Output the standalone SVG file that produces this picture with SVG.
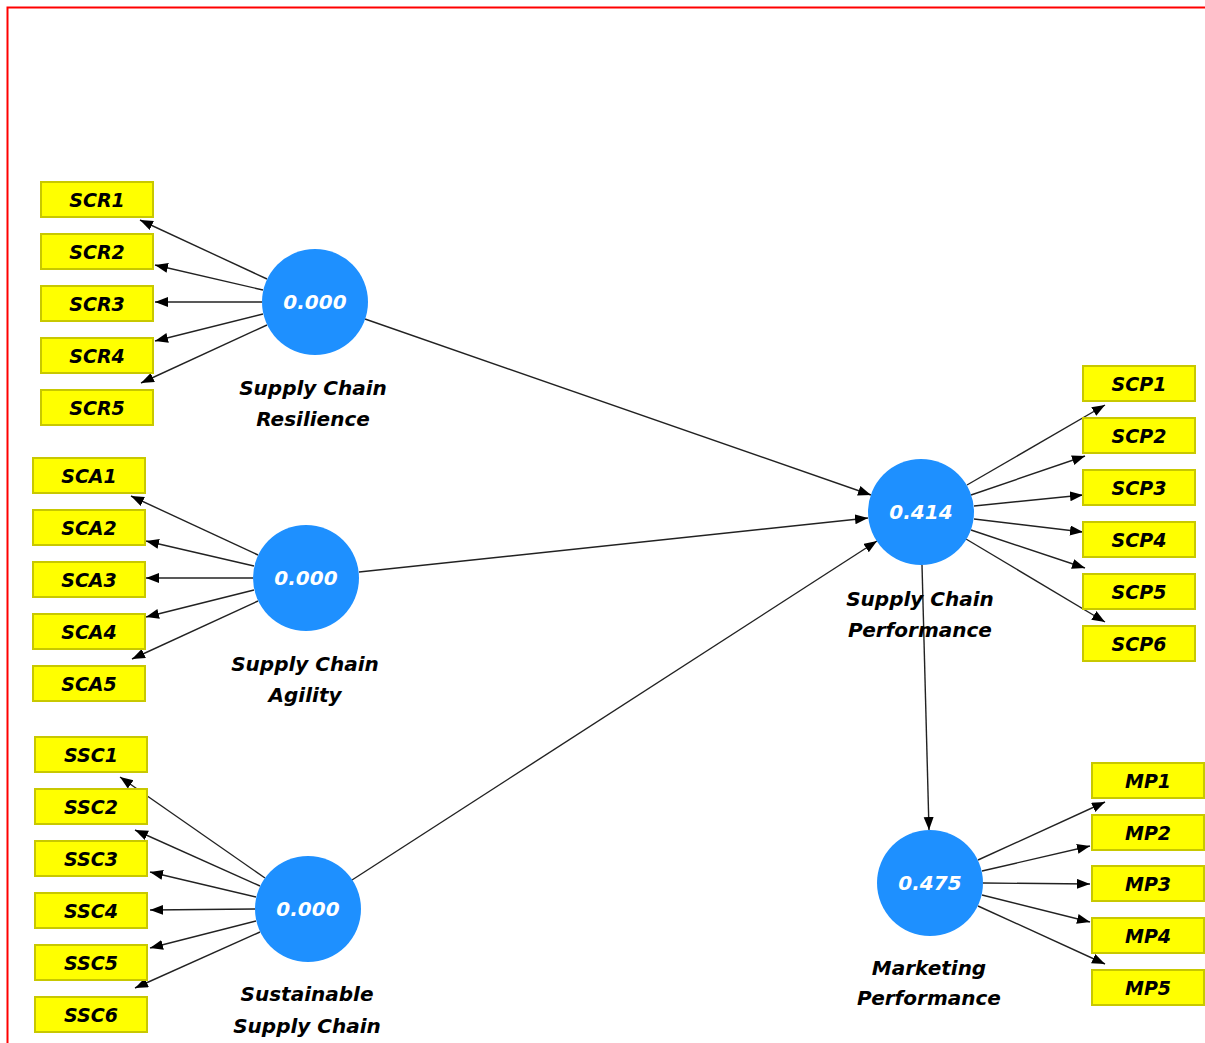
<svg xmlns="http://www.w3.org/2000/svg" width="1205" height="1043" viewBox="0 0 1205 1043">
<style>
.box{fill:#FFFF00;stroke:#C8C800;stroke-width:2}
.bt{font-family:"DejaVu Sans",sans-serif;font-weight:bold;font-style:italic;font-size:19px;fill:#000;text-anchor:middle}
.cir{fill:#1E90FF}
.vt{font-family:"DejaVu Sans",sans-serif;font-weight:bold;font-style:italic;font-size:20px;fill:#fff;text-anchor:middle}
.lt{font-family:"DejaVu Sans",sans-serif;font-weight:bold;font-style:italic;font-size:20px;fill:#000;text-anchor:middle}
.ln{stroke:#222;stroke-width:1.4;fill:none;marker-end:url(#ah)}
</style>
<defs>
<marker id="ah" markerUnits="userSpaceOnUse" markerWidth="14" markerHeight="11" refX="13" refY="5" orient="auto">
<path d="M0,0 L13,5 L0,10 z" fill="#000"/>
</marker>
</defs>
<rect x="0" y="0" width="1205" height="1043" fill="#fff"/>
<rect x="7.5" y="7.5" width="1220" height="1060" fill="none" stroke="#FF0000" stroke-width="2"/>

<g id="connectors">
<!-- SCR -->
<line class="ln" x1="267" y1="279" x2="140" y2="220"/>
<line class="ln" x1="263" y1="290" x2="155" y2="265"/>
<line class="ln" x1="262" y1="302" x2="155" y2="302"/>
<line class="ln" x1="263" y1="314" x2="155" y2="341"/>
<line class="ln" x1="267" y1="325" x2="141" y2="383"/>
<!-- SCA -->
<line class="ln" x1="258" y1="555" x2="131" y2="496"/>
<line class="ln" x1="254" y1="566" x2="146" y2="541"/>
<line class="ln" x1="253" y1="578" x2="146" y2="578"/>
<line class="ln" x1="254" y1="590" x2="146" y2="617"/>
<line class="ln" x1="258" y1="601" x2="132" y2="659"/>
<!-- SSC -->
<line class="ln" x1="265" y1="878" x2="120" y2="777"/>
<line class="ln" x1="260" y1="886" x2="135" y2="830"/>
<line class="ln" x1="256" y1="897" x2="150" y2="872"/>
<line class="ln" x1="255" y1="909" x2="150" y2="910"/>
<line class="ln" x1="256" y1="921" x2="150" y2="948"/>
<line class="ln" x1="260" y1="932" x2="135" y2="988"/>
<!-- SCP -->
<line class="ln" x1="967" y1="485" x2="1105" y2="405"/>
<line class="ln" x1="971" y1="495" x2="1085" y2="456"/>
<line class="ln" x1="974" y1="506" x2="1083" y2="495"/>
<line class="ln" x1="974" y1="519" x2="1083" y2="532"/>
<line class="ln" x1="971" y1="530" x2="1085" y2="568"/>
<line class="ln" x1="966" y1="539" x2="1105" y2="622"/>
<!-- MP -->
<line class="ln" x1="978" y1="860" x2="1105" y2="802"/>
<line class="ln" x1="982" y1="871" x2="1090" y2="846"/>
<line class="ln" x1="983" y1="883" x2="1090" y2="884"/>
<line class="ln" x1="982" y1="895" x2="1090" y2="922"/>
<line class="ln" x1="978" y1="906" x2="1105" y2="964"/>
<!-- structural -->
<line class="ln" x1="365" y1="319" x2="871" y2="495"/>
<line class="ln" x1="359" y1="572" x2="868" y2="518"/>
<line class="ln" x1="352" y1="880" x2="877" y2="541"/>
<line class="ln" x1="922" y1="565" x2="929" y2="830"/>
</g>

<g id="SCR1"><rect class="box" x="41" y="182" width="112" height="35"/><text class="bt" x="97" y="206.5">SCR1</text></g>
<g id="SCR2"><rect class="box" x="41" y="234" width="112" height="35"/><text class="bt" x="97" y="258.5">SCR2</text></g>
<g id="SCR3"><rect class="box" x="41" y="286" width="112" height="35"/><text class="bt" x="97" y="310.5">SCR3</text></g>
<g id="SCR4"><rect class="box" x="41" y="338" width="112" height="35"/><text class="bt" x="97" y="362.5">SCR4</text></g>
<g id="SCR5"><rect class="box" x="41" y="390" width="112" height="35"/><text class="bt" x="97" y="414.5">SCR5</text></g>

<g id="SCA1"><rect class="box" x="33" y="458" width="112" height="35"/><text class="bt" x="89" y="482.5">SCA1</text></g>
<g id="SCA2"><rect class="box" x="33" y="510" width="112" height="35"/><text class="bt" x="89" y="534.5">SCA2</text></g>
<g id="SCA3"><rect class="box" x="33" y="562" width="112" height="35"/><text class="bt" x="89" y="586.5">SCA3</text></g>
<g id="SCA4"><rect class="box" x="33" y="614" width="112" height="35"/><text class="bt" x="89" y="638.5">SCA4</text></g>
<g id="SCA5"><rect class="box" x="33" y="666" width="112" height="35"/><text class="bt" x="89" y="690.5">SCA5</text></g>

<g id="SSC1"><rect class="box" x="35" y="737" width="112" height="35"/><text class="bt" x="91" y="761.5">SSC1</text></g>
<g id="SSC2"><rect class="box" x="35" y="789" width="112" height="35"/><text class="bt" x="91" y="813.5">SSC2</text></g>
<g id="SSC3"><rect class="box" x="35" y="841" width="112" height="35"/><text class="bt" x="91" y="865.5">SSC3</text></g>
<g id="SSC4"><rect class="box" x="35" y="893" width="112" height="35"/><text class="bt" x="91" y="917.5">SSC4</text></g>
<g id="SSC5"><rect class="box" x="35" y="945" width="112" height="35"/><text class="bt" x="91" y="969.5">SSC5</text></g>
<g id="SSC6"><rect class="box" x="35" y="997" width="112" height="35"/><text class="bt" x="91" y="1021.5">SSC6</text></g>

<g id="SCP1"><rect class="box" x="1083" y="366" width="112" height="35"/><text class="bt" x="1139" y="390.5">SCP1</text></g>
<g id="SCP2"><rect class="box" x="1083" y="418" width="112" height="35"/><text class="bt" x="1139" y="442.5">SCP2</text></g>
<g id="SCP3"><rect class="box" x="1083" y="470" width="112" height="35"/><text class="bt" x="1139" y="494.5">SCP3</text></g>
<g id="SCP4"><rect class="box" x="1083" y="522" width="112" height="35"/><text class="bt" x="1139" y="546.5">SCP4</text></g>
<g id="SCP5"><rect class="box" x="1083" y="574" width="112" height="35"/><text class="bt" x="1139" y="598.5">SCP5</text></g>
<g id="SCP6"><rect class="box" x="1083" y="626" width="112" height="35"/><text class="bt" x="1139" y="650.5">SCP6</text></g>

<g id="MP1"><rect class="box" x="1092" y="763" width="112" height="35"/><text class="bt" x="1148" y="787.5">MP1</text></g>
<g id="MP2"><rect class="box" x="1092" y="815" width="112" height="35"/><text class="bt" x="1148" y="839.5">MP2</text></g>
<g id="MP3"><rect class="box" x="1092" y="866" width="112" height="35"/><text class="bt" x="1148" y="890.5">MP3</text></g>
<g id="MP4"><rect class="box" x="1092" y="918" width="112" height="35"/><text class="bt" x="1148" y="942.5">MP4</text></g>
<g id="MP5"><rect class="box" x="1092" y="970" width="112" height="35"/><text class="bt" x="1148" y="994.5">MP5</text></g>

<g id="SupplyChainResilience">
<circle class="cir" cx="315" cy="302" r="53"/>
<text class="vt" x="315" y="309">0.000</text>
<text class="lt" x="313" y="395">Supply Chain</text>
<text class="lt" x="313" y="426">Resilience</text>
</g>
<g id="SupplyChainAgility">
<circle class="cir" cx="306" cy="578" r="53"/>
<text class="vt" x="306" y="585">0.000</text>
<text class="lt" x="305" y="671">Supply Chain</text>
<text class="lt" x="305" y="702">Agility</text>
</g>
<g id="SustainableSupplyChain">
<circle class="cir" cx="308" cy="909" r="53"/>
<text class="vt" x="308" y="916">0.000</text>
<text class="lt" x="307" y="1001">Sustainable</text>
<text class="lt" x="307" y="1033">Supply Chain</text>
</g>
<g id="SupplyChainPerformance">
<circle class="cir" cx="921" cy="512" r="53"/>
<text class="vt" x="921" y="519">0.414</text>
<text class="lt" x="920" y="606">Supply Chain</text>
<text class="lt" x="920" y="637">Performance</text>
</g>
<g id="MarketingPerformance">
<circle class="cir" cx="930" cy="883" r="53"/>
<text class="vt" x="930" y="890">0.475</text>
<text class="lt" x="929" y="975">Marketing</text>
<text class="lt" x="929" y="1005">Performance</text>
</g>
</svg>
